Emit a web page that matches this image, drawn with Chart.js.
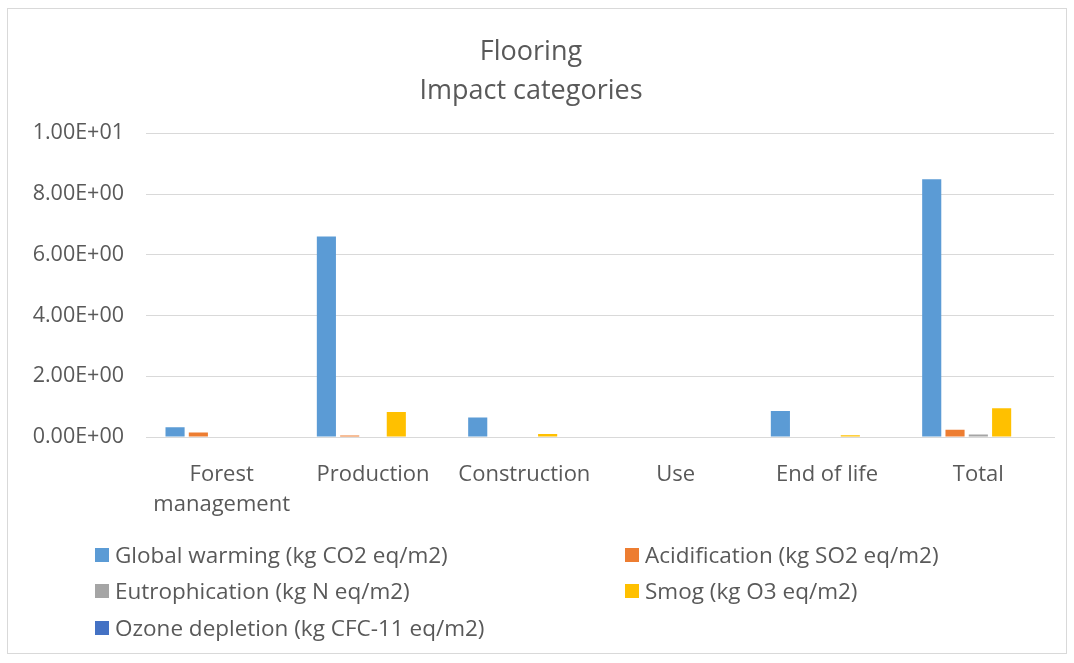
<!DOCTYPE html>
<html>
<head>
<meta charset="utf-8">
<script src="https://cdn.jsdelivr.net/npm/chart.js@4"></script>
<style>
  body { margin: 0; background: #fff; font-family: "Open Sans", sans-serif; }
  #frame {
    position: absolute; left: 7px; top: 8px; width: 1060px; height: 646px;
    border: 1px solid #d9d9d9; box-sizing: border-box;
  }
  #impactChart { position: absolute; left: 0; top: 0; }
  #legend { position: absolute; left: 0; top: 0; }
  .item {
    position: absolute; display: flex; align-items: center;
    font-size: 22.5px; color: #595959; white-space: nowrap; line-height: 30px;
  }
  .swatch { width: 14px; height: 14px; margin-right: 6px; }
</style>
</head>
<body>
<div id="frame">
  <canvas id="impactChart" width="1058" height="644"></canvas>
  <div id="legend"></div>
</div>
<script>
const categories = [["Forest", "management"], "Production", "Construction", "Use", "End of life", "Total"];
const seriesNames = [
  "Global warming (kg CO2 eq/m2)",
  "Acidification (kg SO2 eq/m2)",
  "Eutrophication (kg N eq/m2)",
  "Smog (kg O3 eq/m2)",
  "Ozone depletion (kg CFC-11 eq/m2)"
];
const globalWarming = [0.32, 6.6, 0.64, 0, 0.86, 8.49];
const acidification = [0.15, 0.05, 0, 0, 0, 0.24];
const eutrophication = [0, 0, 0, 0, 0, 0.08];
const smog = [0, 0.82, 0.1, 0, 0.06, 0.95];
const ozoneDepletion = [0, 0, 0, 0, 0, 0];
const yTicks = [0, 2, 4, 6, 8, 10];

const colors = ["#5b9bd5", "#ed7d31", "#a5a5a5", "#ffc000", "#4472c4"];
const values = [globalWarming, acidification, eutrophication, smog, ozoneDepletion];

// Excel-style scientific labels: 2.00E+00
function sci(v) {
  if (v === 0) return "0.00E+00";
  const exp = Math.floor(Math.log10(Math.abs(v)));
  const man = (v / Math.pow(10, exp)).toFixed(2);
  const sign = exp < 0 ? "-" : "+";
  return man + "E" + sign + String(Math.abs(exp)).padStart(2, "0");
}

const font = "'Open Sans', sans-serif";
const ctx = document.getElementById("impactChart").getContext("2d");
const chart = new Chart(ctx, {
  type: "bar",
  data: {
    labels: categories,
    datasets: values.map((data, i) => ({
      label: seriesNames[i],
      data: data,
      backgroundColor: colors[i],
      categoryPercentage: 0.77,
      barPercentage: 0.82,
    })),
  },
  options: {
    responsive: false,
    animation: false,
    layout: { padding: { left: 0, right: 12, top: 0, bottom: 116 } },
    plugins: {
      legend: { display: false },
      tooltip: { enabled: false },
      title: {
        display: true,
        text: ["Flooring", "Impact categories"],
        color: "#595959",
        font: { family: font, size: 27, weight: "normal", lineHeight: 1.45 },
        padding: { top: 24, bottom: 22 },
      },
    },
    scales: {
      x: {
        grid: { display: false, drawTicks: false },
        border: { color: "#d9d9d9", width: 1 },
        ticks: { color: "#595959", font: { family: font, size: 22, lineHeight: 1.4 }, padding: 22, maxRotation: 0, autoSkip: false },
        afterFit: (scale) => { scale.height = 100; },
      },
      y: {
        min: 0,
        max: 10,
        afterBuildTicks: (scale) => { scale.ticks = yTicks.map((v) => ({ value: v })); },
        grid: { color: "#d9d9d9", drawTicks: false },
        border: { display: false },
        ticks: { color: "#595959", font: { family: font, size: 21.5 }, padding: 22, callback: (v) => sci(v) },
        afterFit: (scale) => { scale.width = 138; },
      },
    },
  },
});

// two-column legend below the plot
const legend = document.getElementById("legend");
const slots = [[87, 531], [617, 531], [87, 567], [617, 567], [87, 604]];
chart.data.datasets.forEach((ds, i) => {
  const el = document.createElement("div");
  el.className = "item";
  el.style.left = slots[i][0] + "px";
  el.style.top = slots[i][1] + "px";
  el.innerHTML = '<span class="swatch" style="background:' + ds.backgroundColor + '"></span>' + ds.label;
  legend.appendChild(el);
});
</script>
</body>
</html>
